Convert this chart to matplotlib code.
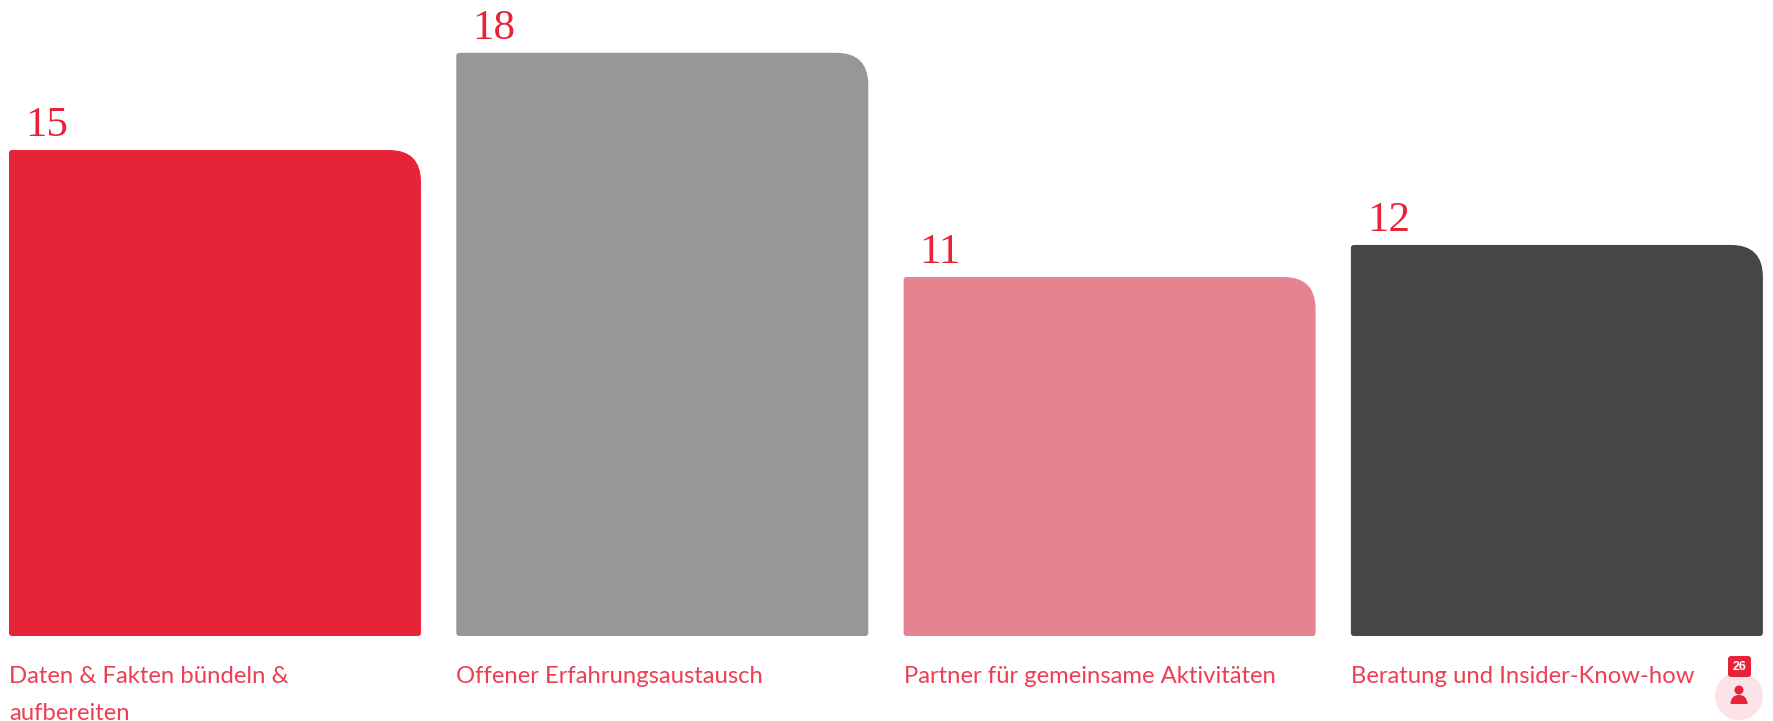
import matplotlib
matplotlib.use("Agg")
import matplotlib.pyplot as plt
from matplotlib.path import Path
from matplotlib.patches import PathPatch, Circle, FancyBboxPatch

categories = [["Daten & Fakten bündeln &", "aufbereiten"], ["Offener Erfahrungsaustausch"],
              ["Partner für gemeinsame Aktivitäten"], ["Beratung und Insider-Know-how"]]
value_labels = ["15", "18", "11", "12"]
bar_heights = [15.0, 18, 11.08, 12.07]   # heights as measured on the picture
bar_colors = ["#E62339", "#979797", "#E68390", "#464646"]
badge_text = "26"

W, H = 1773, 721
RED = "#E62339"
LABEL = "#EC3F53"
fig = plt.figure(figsize=(W / 100, H / 100), dpi=100, facecolor="white")
baseline = 636
unit = 32.4
step = 447.3
ax = fig.add_axes([0, (H - baseline) / H, 1, baseline / H])
ax.set_xlim(-215 / step, (W - 215) / step)
ax.set_ylim(0, baseline / unit)
ax.axis("off")

width = 412 / step
rx, ry = 32 / step, 32 / unit     # top-right radius
sx, sy = 3 / step, 3 / unit       # small radius on the other corners


def bar_path(x0, x1, h):
    return Path([
        (x0 + sx, 0), (x1 - sx, 0), (x1, 0), (x1, sy),
        (x1, h - ry), (x1, h), (x1 - rx, h),
        (x0 + sx, h), (x0, h), (x0, h - sy),
        (x0, sy), (x0, 0), (x0 + sx, 0), (x0 + sx, 0)],
        [Path.MOVETO, Path.LINETO, Path.CURVE3, Path.CURVE3,
         Path.LINETO, Path.CURVE3, Path.CURVE3,
         Path.LINETO, Path.CURVE3, Path.CURVE3,
         Path.LINETO, Path.CURVE3, Path.CURVE3, Path.CLOSEPOLY])


for i, (lines, lab, v, c) in enumerate(zip(categories, value_labels, bar_heights, bar_colors)):
    x0 = i - width / 2
    ax.add_patch(PathPatch(bar_path(x0, x0 + width, v), facecolor=c, edgecolor="none"))
    ax.annotate(lab, (x0, v), xytext=(16 * 0.72, 14 * 0.72), textcoords="offset points",
                ha="left", va="baseline", fontsize=31, color=RED, family="Liberation Serif")
    for k, line in enumerate(lines):
        ax.annotate(line, (x0, 0), xytext=(0, -(47 + 37 * k) * 0.72), textcoords="offset points",
                    ha="left", va="baseline", fontsize=17.2, color=LABEL, family="Lato",
                    annotation_clip=False)

# floating help widget in the page corner
ov = fig.add_axes([0, 0, 1, 1], facecolor="none")
ov.set_xlim(0, W)
ov.set_ylim(H, 0)
ov.axis("off")
ov.add_patch(Circle((1739, 696), 24, facecolor="#FBE3E7", edgecolor="none"))
ov.add_patch(FancyBboxPatch((1731, 659), 17, 15, boxstyle="round,pad=3,rounding_size=3",
                            facecolor=RED, edgecolor="none"))
ov.text(1739.5, 667, badge_text, ha="center", va="center", fontsize=9, fontweight="bold",
        color="white", family="Liberation Sans")
ov.add_patch(Circle((1739, 690), 4.5, facecolor=RED, edgecolor="none"))
body = Path([(1730.5, 704), (1731, 695), (1739, 695), (1747, 695), (1747.5, 704), (1730.5, 704)],
            [Path.MOVETO, Path.CURVE3, Path.CURVE3, Path.CURVE3, Path.CURVE3, Path.CLOSEPOLY])
ov.add_patch(PathPatch(body, facecolor=RED, edgecolor="none"))

fig.savefig("out.png", dpi=100, facecolor="white")
